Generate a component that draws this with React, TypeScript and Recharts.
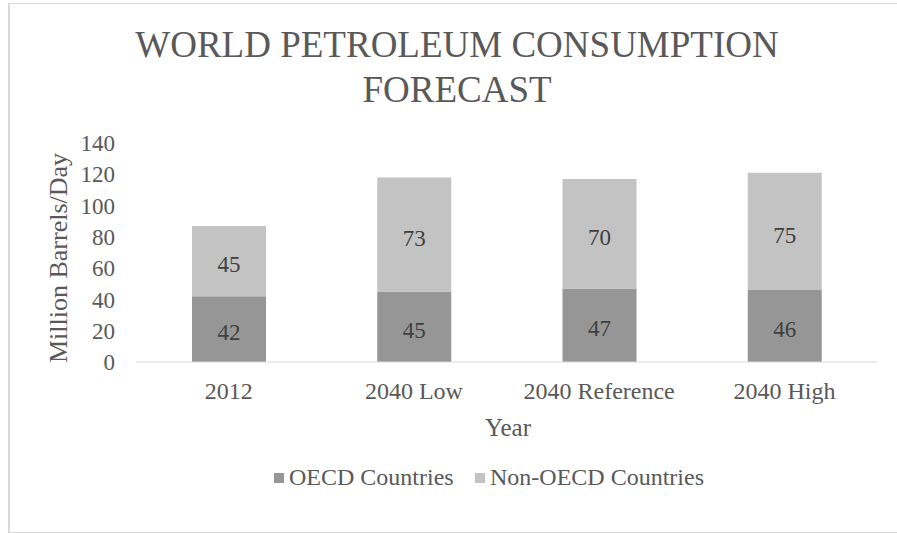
import React from 'react';
import { BarChart, Bar, XAxis, YAxis, LabelList } from 'recharts';

const categories = ['2012', '2040 Low', '2040 Reference', '2040 High'];
const oecdValues = [42, 45, 47, 46];
const nonOecdValues = [45, 73, 70, 75];
const yTicks = [0, 20, 40, 60, 80, 100, 120, 140];
const seriesNames = ['OECD Countries', 'Non-OECD Countries'];
const seriesColors = ['#969696', '#c3c3c3'];
const titleLines = ['WORLD PETROLEUM CONSUMPTION', 'FORECAST'];
const xAxisTitle = 'Year';
const yAxisTitle = 'Million Barrels/Day';

const data = categories.map((c, i) => ({
  year: c,
  oecd: oecdValues[i],
  nonOecd: nonOecdValues[i],
}));

const FONT = "'Liberation Serif', 'Times New Roman', serif";
const TEXT = '#595959';

export default function App() {
  return (
    <div
      style={{
        position: 'absolute',
        left: 0,
        top: 0,
        width: 897,
        height: 533,
        overflow: 'hidden',
        background: '#ffffff',
        fontFamily: FONT,
      }}
    >
      <div
        style={{
          position: 'absolute',
          left: 8,
          top: 3,
          width: 920,
          height: 530,
          boxSizing: 'border-box',
          borderLeft: '2px solid #d9d9d9',
          borderTop: '1px solid #d9d9d9',
          borderBottom: '1px solid #d9d9d9',
        }}
      />
      <div style={{ position: 'absolute', left: 0, top: 0 }}>
        <BarChart
          width={897}
          height={533}
          data={data}
          margin={{ top: 143, right: 20, left: 0, bottom: 141 }}
          barSize={74}
        >
          <XAxis
            dataKey="year"
            height={30}
            axisLine={{ stroke: '#d9d9d9', strokeWidth: 1 }}
            tickLine={false}
            tickSize={0}
            tickMargin={20}
            tick={{ fill: TEXT, fontSize: 24, fontFamily: FONT }}
            interval={0}
          />
          <YAxis
            width={136}
            domain={[0, 140]}
            ticks={yTicks}
            axisLine={false}
            tickLine={false}
            tickSize={0}
            tickMargin={21}
            tick={{ fill: TEXT, fontSize: 23, fontFamily: FONT }}
            interval={0}
          />
          <Bar dataKey="oecd" name={seriesNames[0]} stackId="a" fill={seriesColors[0]} isAnimationActive={false}>
            <LabelList dataKey="oecd" position="center" fill="#404040" fontSize={23} fontFamily={FONT} dy={3} />
          </Bar>
          <Bar dataKey="nonOecd" name={seriesNames[1]} stackId="a" fill={seriesColors[1]} isAnimationActive={false}>
            <LabelList dataKey="nonOecd" position="center" fill="#404040" fontSize={23} fontFamily={FONT} dy={3} />
          </Bar>
        </BarChart>
      </div>
      <svg
        width={897}
        height={533}
        style={{ position: 'absolute', left: 0, top: 0, pointerEvents: 'none' }}
      >
        {titleLines.map((t, i) => (
          <text
            key={t}
            x={457}
            y={57 + i * 45}
            textAnchor="middle"
            fontFamily={FONT}
            fontSize={37}
            fill={TEXT}
          >
            {t}
          </text>
        ))}
        <text x={508} y={436} textAnchor="middle" fontFamily={FONT} fontSize={25} fill={TEXT}>
          {xAxisTitle}
        </text>
        <text
          x={67}
          y={258}
          textAnchor="middle"
          fontFamily={FONT}
          fontSize={26}
          fill={TEXT}
          transform="rotate(-90 67 258)"
        >
          {yAxisTitle}
        </text>
        <g>
          <rect x={274} y={473} width={10} height={10} fill={seriesColors[0]} />
          <text x={289} y={485} fontFamily={FONT} fontSize={24} fill={TEXT}>
            {seriesNames[0]}
          </text>
          <rect x={475} y={473} width={10} height={10} fill={seriesColors[1]} />
          <text x={490} y={485} fontFamily={FONT} fontSize={24} fill={TEXT}>
            {seriesNames[1]}
          </text>
        </g>
      </svg>
    </div>
  );
}
